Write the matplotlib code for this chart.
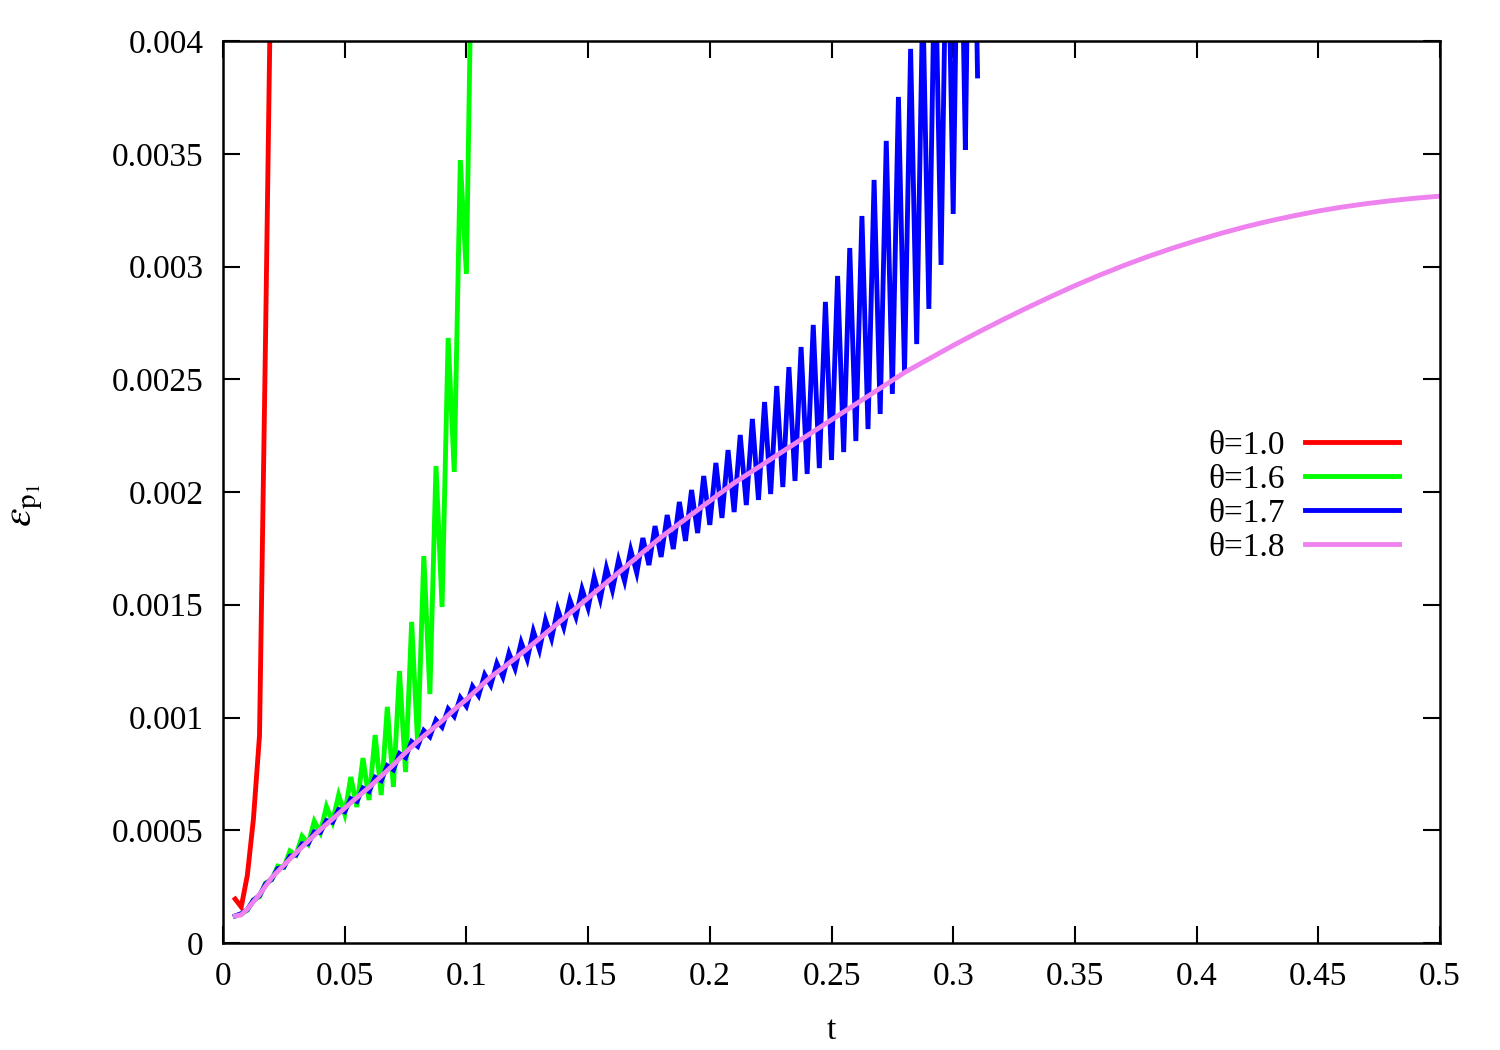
import numpy as np
import matplotlib
matplotlib.use("Agg")
import matplotlib.pyplot as plt

plt.rcParams['font.family'] = ['Liberation Serif', 'DejaVu Serif']
plt.rcParams['mathtext.fontset'] = 'stix'

# ---- data ----
red_t = [0.005, 0.0075, 0.01, 0.0125, 0.015, 0.0175, 0.02]
red_y = [0.000195, 0.00016, 0.0003, 0.00055, 0.00092, 0.0027, 0.0046]

# green (theta=1.6): values at t = 0.005k (low) and t = 0.005k+0.0025 (high)
green_low = [0.000120, 0.000145, 0.000205, 0.000280, 0.000335, 0.000390, 0.000440,
             0.000490, 0.000537, 0.000572, 0.000603, 0.000634, 0.000656, 0.000692,
             0.000758, 0.000878, 0.001104, 0.001490, 0.002089, 0.002967]
green_high = [0.000130, 0.000191, 0.000266, 0.000341, 0.000408, 0.000474, 0.000540,
              0.000605, 0.000656, 0.000736, 0.000820, 0.000922, 0.001047, 0.001206,
              0.001424, 0.001716, 0.002115, 0.002683, 0.003472, 0.004700]

# blue (theta=1.7)
blue_low = [0.000120, 0.000148, 0.000210, 0.000283, 0.000337, 0.000390, 0.000440,
            0.000490, 0.000535, 0.000582, 0.000628, 0.000672, 0.000720, 0.000768,
            0.000822, 0.000872, 0.000915, 0.000958, 0.001005, 0.001050, 0.001097,
            0.001143, 0.001180, 0.001217, 0.001258, 0.001300, 0.001350, 0.001400,
            0.001446, 0.001486, 0.001525, 0.001565, 0.001605, 0.001641, 0.001676,
            0.001712, 0.001747, 0.001783, 0.001818, 0.001854, 0.001885, 0.001911,
            0.001942, 0.001965, 0.001991, 0.002022, 0.002049, 0.002080, 0.002106,
            0.002142, 0.002177, 0.002226, 0.002279, 0.002346, 0.002435, 0.002532,
            0.002656, 0.002812, 0.003007, 0.003233, 0.003517, 0.003845]
blue_high = [0.000130, 0.000190, 0.000262, 0.000330, 0.000385, 0.000440, 0.000493,
             0.000543, 0.000592, 0.000640, 0.000687, 0.000735, 0.000786, 0.000840,
             0.000893, 0.000942, 0.000989, 0.001038, 0.001088, 0.001138, 0.001190,
             0.001240, 0.001285, 0.001333, 0.001383, 0.001432, 0.001480,
             0.001521, 0.001570, 0.001623, 0.001663, 0.001698, 0.001743, 0.001796,
             0.001849, 0.001898, 0.001956, 0.002009, 0.002071, 0.002129, 0.002186,
             0.002253, 0.002324, 0.002399, 0.002470, 0.002554, 0.002643, 0.002741,
             0.002843, 0.002958, 0.003082, 0.003224, 0.003384, 0.003557, 0.003752,
             0.003965, 0.00420, 0.00445, 0.00475, 0.00510, 0.00550]

# pink (theta=1.8)
pink_t = [0.005, 0.0075, 0.01, 0.015, 0.02, 0.025, 0.03, 0.035, 0.04, 0.045, 0.05,
          0.055, 0.06, 0.065, 0.07, 0.075, 0.08, 0.085, 0.09, 0.095, 0.10, 0.105,
          0.11, 0.115, 0.12, 0.125, 0.13, 0.135, 0.14, 0.145, 0.15, 0.16, 0.17,
          0.18, 0.19, 0.20, 0.21, 0.22, 0.23, 0.24, 0.25, 0.26, 0.27, 0.28, 0.29,
          0.30, 0.31, 0.32, 0.33, 0.34, 0.35, 0.36, 0.37, 0.38, 0.39, 0.40, 0.41,
          0.42, 0.43, 0.44, 0.45, 0.46, 0.47, 0.48, 0.49, 0.50]
pink_y = [0.000120, 0.000125, 0.000150, 0.000215, 0.000290, 0.000345, 0.000400,
          0.000452, 0.000503, 0.000550, 0.000598, 0.000645, 0.000690, 0.000740,
          0.000790, 0.000845, 0.000895, 0.000940, 0.000985, 0.001035, 0.001080,
          0.001130, 0.001180, 0.001220, 0.001262, 0.001305, 0.001350, 0.001395,
          0.001440, 0.001485, 0.001530, 0.00162, 0.00171, 0.00180, 0.00188,
          0.00196, 0.00204, 0.00211, 0.00218, 0.00225, 0.00232, 0.00239, 0.00246,
          0.00253, 0.00259, 0.002650, 0.002707, 0.002762, 0.002815, 0.002866,
          0.002915, 0.002961, 0.003004, 0.003044, 0.003081, 0.003115, 0.003147,
          0.003176, 0.003202, 0.003225, 0.003246, 0.003264, 0.003279, 0.003292,
          0.003303, 0.003312]

labels = ['θ=1.0', 'θ=1.6', 'θ=1.7', 'θ=1.8']
colors = ['#ff0000', '#00ff00', '#0000ff', '#ee82ee']
xticks = [0, 0.05, 0.1, 0.15, 0.2, 0.25, 0.3, 0.35, 0.4, 0.45, 0.5]
xticklabels = ['0', '0.05', '0.1', '0.15', '0.2', '0.25', '0.3', '0.35', '0.4', '0.45', '0.5']
yticks = [0, 0.0005, 0.001, 0.0015, 0.002, 0.0025, 0.003, 0.0035, 0.004]
yticklabels = ['0', '0.0005', '0.001', '0.0015', '0.002', '0.0025', '0.003', '0.0035', '0.004']


def interleave(low, high, dt=0.0025, t0=0.005):
    n = len(low) + len(high)
    t = t0 + dt * np.arange(n)
    y = np.empty(n)
    y[0::2] = low
    y[1::2] = high
    return t, y


green_t, green_y = interleave(green_low, green_high)
blue_t, blue_y = interleave(blue_low, blue_high)

fig = plt.figure(figsize=(15, 10.5), dpi=100)
ax = fig.add_axes([223/1500, 1 - 943/1050, (1440-223)/1500, (943-41)/1050])

lw = 3.5
ax.plot(red_t, red_y, color=colors[0], lw=lw, label=labels[0], solid_joinstyle='miter')
ax.plot(green_t, green_y, color=colors[1], lw=lw, label=labels[1], solid_joinstyle='miter')
ax.plot(blue_t, blue_y, color=colors[2], lw=lw, label=labels[2], solid_joinstyle='miter')
ax.plot(pink_t, pink_y, color=colors[3], lw=lw, label=labels[3])

ax.set_xlim(0, 0.5)
ax.set_ylim(0, 0.004)
ax.set_xticks(xticks)
ax.set_xticklabels(xticklabels)
ax.set_yticks(yticks)
ax.set_yticklabels(yticklabels)
ax.tick_params(direction='in', length=12, width=1.5, top=True, right=True,
               labelsize=24)
ax.tick_params(axis='x', pad=13)
ax.tick_params(axis='y', pad=14)
for s in ax.spines.values():
    s.set_linewidth(1.8)

ax.set_xlabel('t', fontsize=24)
ax.xaxis.set_label_coords(0.5, -0.08)
ax.set_ylabel(r'$\varepsilon_{\mathrm{p}_1}$', fontsize=30)
ax.yaxis.set_label_coords(-0.146, 0.485)

leg = ax.legend(loc='center right', bbox_to_anchor=(0.966, 0.495), frameon=False,
                markerfirst=False, fontsize=24, handlelength=2.8, handletextpad=0.6,
                labelspacing=0.11, borderpad=0, borderaxespad=0)

fig.savefig('out.png', dpi=100)
